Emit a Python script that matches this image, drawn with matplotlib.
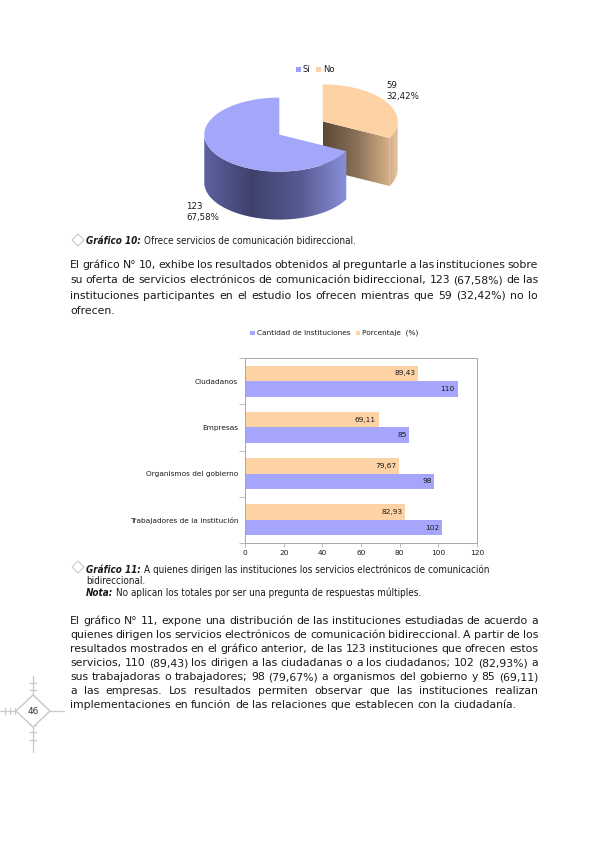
import numpy as np
import matplotlib
matplotlib.use('Agg')
import matplotlib.pyplot as plt
from matplotlib.patches import Polygon, Rectangle
from matplotlib.colors import LinearSegmentedColormap

# ---------------- data ----------------
pie_labels = ['Sí', 'No']
pie_values = [123, 59]
pie_pct_labels = ['67,58%', '32,42%']

bar_categories = ['Ciudadanos', 'Empresas', 'Organismos del gobierno',
                  'Trabajadores de la institución']
bar_cantidad = [110, 85, 98, 102]
bar_porcentaje = [89.43, 69.11, 79.67, 82.93]
bar_porcentaje_labels = ['89,43', '69,11', '79,67', '82,93']
bar_series = ['Cantidad de Instituciones', 'Porcentaje  (%)']
x_ticks = [0, 20, 40, 60, 80, 100, 120]

caption1_bold = 'Gráfico 10:'
caption1_text = 'Ofrece servicios de comunicación bidireccional.'
para1 = [
    'El gráfico N° 10, exhibe los resultados obtenidos al preguntarle a las instituciones sobre',
    'su oferta de servicios electrónicos de comunicación bidireccional, 123 (67,58%) de las',
    'instituciones participantes en el estudio los ofrecen mientras que 59 (32,42%) no lo',
    'ofrecen.',
]
caption2_bold = 'Gráfico 11:'
caption2_lines = ['A quienes dirigen las instituciones los servicios electrónicos de comunicación',
                  'bidireccional.']
nota_bold = 'Nota:'
nota_text = 'No aplican los totales por ser una pregunta de respuestas múltiples.'
para2 = [
    'El gráfico N° 11, expone una distribución de las instituciones estudiadas de acuerdo a',
    'quienes dirigen los servicios electrónicos de comunicación bidireccional. A partir de los',
    'resultados mostrados en el gráfico anterior, de las 123 instituciones que ofrecen estos',
    'servicios, 110 (89,43) los dirigen a las ciudadanas o a los ciudadanos; 102 (82,93%) a',
    'sus trabajadoras o trabajadores; 98 (79,67%) a organismos del gobierno y 85 (69,11)',
    'a las empresas. Los resultados permiten observar que las instituciones realizan',
    'implementaciones en función de las relaciones que establecen con la ciudadanía.',
]
page_number = '46'

# ---------------- figure ----------------
plt.rcParams['font.family'] = ['DejaVu Sans']
fig = plt.figure(figsize=(5.95, 8.42), dpi=100)
page = fig.add_axes([0, 0, 1, 1])
page.set_xlim(0, 595)
page.set_ylim(842, 0)
page.axis('off')
renderer = fig.canvas.get_renderer()

TXT = '#1a1a1a'
GRAY = '#c9c9c9'


def text_width(s, **kw):
    t = page.text(0, 0, s, **kw)
    w = t.get_window_extent(renderer).width
    t.remove()
    return w


def draw_line(line, y, x0, x1, justify, **kw):
    words = line.split(' ')
    widths = [text_width(w, **kw) for w in words]
    if justify and len(words) > 1:
        gap = (x1 - x0 - sum(widths)) / (len(words) - 1)
    else:
        gap = text_width('a a', **kw) - text_width('aa', **kw)
    x = x0
    for w, wd in zip(words, widths):
        page.text(x, y, w, ha='left', va='baseline', color=TXT, **kw)
        x += wd + gap


def diamond(cx, cy, hw, hh, lw=0.8):
    page.add_patch(Polygon([(cx - hw, cy), (cx, cy - hh), (cx + hw, cy), (cx, cy + hh)],
                           closed=True, facecolor='white', edgecolor=GRAY, lw=lw, zorder=3))


# ---------------- 3D pie ----------------
def ell(cx, cy, rx, ry, th):
    th = np.radians(th)
    return np.column_stack([cx + rx * np.cos(th), cy - ry * np.sin(th)])


def grad_fill(poly, x0, x1, y0, y1, colors, z):
    patch = Polygon(poly, closed=True, facecolor='none', edgecolor='none', zorder=z)
    page.add_patch(patch)
    cmap = LinearSegmentedColormap.from_list('g', colors)
    g = np.linspace(0, 1, 256).reshape(1, -1)
    im = page.imshow(g, cmap=cmap, extent=(x0, x1, y1, y0), aspect='auto',
                     zorder=z, interpolation='bilinear')
    im.set_clip_path(patch)


pcx, pcy, rx, ry, depth, explode = 301, 128, 75, 37, 48, 0.34
total = sum(pie_values)
sweep_no = 360 * pie_values[1] / total
a_start = 90
a_end_no = a_start - sweep_no           # orange: 90 -> -26.7 (clockwise)
mid_no = (a_start + a_end_no) / 2
mid_si = mid_no + 180
off = lambda m: (explode * rx * np.cos(np.radians(m)), -explode * ry * np.sin(np.radians(m)))

# orange slice ("No")
ox, oy = off(mid_no)
ocx, ocy = pcx + ox, pcy + oy
arc_o = ell(ocx, ocy, rx, ry, np.linspace(a_start, a_end_no, 120))
th_side = np.linspace(a_end_no, 0, 40)
top_s = ell(ocx, ocy, rx, ry, th_side)
bot_s = top_s + [0, depth]
grad_fill(np.vstack([top_s, bot_s[::-1]]), ocx + rx * 0.85, ocx + rx, ocy - ry, ocy + ry + depth,
          ['#c9a47c', '#e6c59f'], 2)
rim = ell(ocx, ocy, rx, ry, [a_end_no])[0]
face = [(ocx, ocy), tuple(rim), (rim[0], rim[1] + depth), (ocx, ocy + depth)]
grad_fill(face, ocx, rim[0], ocy, rim[1] + depth, ['#5a4835', '#8a7158', '#d8b38a'], 2.1)
page.add_patch(Polygon(np.vstack([[ocx, ocy], arc_o]), closed=True, facecolor='#fdd3a6',
                       edgecolor='none', zorder=3))

# blue slice ("Sí")
bx, by = off(mid_si)
bcx, bcy = pcx + bx, pcy + by
arc_b = ell(bcx, bcy, rx, ry, np.linspace(a_end_no + 360, a_start, 240))
th_side = np.linspace(180, a_end_no + 360, 120)
top_s = ell(bcx, bcy, rx, ry, th_side)
bot_s = top_s + [0, depth]
grad_fill(np.vstack([top_s, bot_s[::-1]]), bcx - rx, top_s[-1, 0], bcy, bcy + ry + depth,
          ['#5d619f', '#3f426c', '#55598f', '#8a8fdb'], 4)
page.add_patch(Polygon(np.vstack([[bcx, bcy], arc_b]), closed=True, facecolor='#a3a7fa',
                       edgecolor='none', zorder=5))

page.text(386, 91, f'{pie_values[1]}\n{pie_pct_labels[1]}', fontsize=6.2, color=TXT,
          ha='left', va='center', linespacing=1.15)
page.text(186, 212, f'{pie_values[0]}\n{pie_pct_labels[0]}', fontsize=6.2, color=TXT,
          ha='left', va='center', linespacing=1.15)

pie_colors = ['#9c9ff7', '#fcd3a6']
lx = 296
for lab, c in zip(pie_labels, pie_colors):
    page.add_patch(Rectangle((lx, 67), 5, 5, facecolor=c, edgecolor='none'))
    page.text(lx + 6.5, 69.5, lab, fontsize=6, color=TXT, ha='left', va='center')
    lx += 6.5 + text_width(lab, fontsize=6) + 6

# ---------------- caption 1 + paragraph 1 ----------------
CAP = dict(fontsize=7.1, fontstretch='condensed')
CAPB = dict(fontsize=7.1, fontstretch='condensed', fontweight='bold', fontstyle='italic')
diamond(78, 240, 6, 6)
page.text(86, 243.5, caption1_bold, color=TXT, va='baseline', **CAPB)
wb = text_width(caption1_bold + ' ', **CAPB)
page.text(86 + wb, 243.5, caption1_text, color=TXT, va='baseline', **CAP)

BODY = 7.8
for i, line in enumerate(para1):
    draw_line(line, 268 + i * 15.4, 70, 538, i < len(para1) - 1, fontsize=BODY)

# ---------------- bar chart ----------------
blue = '#a5a6fb'
orange = '#fdd3a5'
lx = 250
for lab, c in zip(bar_series, [blue, orange]):
    page.add_patch(Rectangle((lx, 330.5), 4.5, 4.5, facecolor=c, edgecolor='none'))
    page.text(lx + 7, 333, lab, fontsize=5.3, color=TXT, ha='left', va='center')
    lx += 7 + text_width(lab, fontsize=5.3) + 5

ax = fig.add_axes([245 / 595, 1 - 543 / 842, 232 / 595, 185 / 842])
y = np.arange(len(bar_categories))
h = 0.335
ax.barh(y + h / 2, bar_cantidad, height=h, color=blue, zorder=2)
ax.barh(y - h / 2, bar_porcentaje, height=h, color=orange, zorder=2)
for yi, v in zip(y, bar_cantidad):
    ax.annotate(str(v), (v, yi + h / 2), xytext=(-2, 0), textcoords='offset points',
                ha='right', va='center', fontsize=5.3, color=TXT)
for yi, v, lab in zip(y, bar_porcentaje, bar_porcentaje_labels):
    ax.annotate(lab, (v, yi - h / 2), xytext=(-2, 0), textcoords='offset points',
                ha='right', va='center', fontsize=5.3, color=TXT)
ax.set_xlim(0, 120)
ax.set_ylim(len(bar_categories) - 0.5, -0.5)
ax.set_xticks(x_ticks)
ax.set_xticklabels([str(t) for t in x_ticks])
ax.set_yticks(y)
ax.set_yticklabels(bar_categories)
ax.set_yticks(np.arange(len(bar_categories) + 1) - 0.5, minor=True)
ax.tick_params(axis='y', which='major', length=0, pad=5, labelsize=5.3, labelcolor=TXT)
ax.tick_params(axis='y', which='minor', length=4, color='#b0b0b0', width=0.6)
ax.tick_params(axis='x', length=3, color='#b0b0b0', width=0.6, labelsize=5.3,
               labelcolor=TXT, pad=2)
for s in ['left', 'bottom']:
    ax.spines[s].set_color('#a8a8a8')
    ax.spines[s].set_linewidth(0.7)
for s in ['top', 'right']:
    ax.spines[s].set_color('#a8a8a8')
    ax.spines[s].set_linestyle((0, (1, 1)))
    ax.spines[s].set_linewidth(0.7)

# ---------------- caption 2 ----------------
diamond(78, 567, 6, 6)
wb2 = text_width(caption2_bold + ' ', **CAPB)
page.text(86, 573, caption2_bold, color=TXT, va='baseline', **CAPB)
page.text(86 + wb2, 573, caption2_lines[0], color=TXT, va='baseline', **CAP)
page.text(86, 584.5, caption2_lines[1], color=TXT, va='baseline', **CAP)
wn = text_width(nota_bold + ' ', **CAPB)
page.text(86, 596, nota_bold, color=TXT, va='baseline', **CAPB)
page.text(86 + wn, 596, nota_text, color=TXT, va='baseline', **CAP)

# ---------------- paragraph 2 ----------------
for i, line in enumerate(para2):
    draw_line(line, 624 + i * 14.0, 70, 538, i < len(para2) - 1, fontsize=BODY)

# ---------------- page number ornament ----------------
pc = (33, 711)
page.plot([0, 64], [pc[1], pc[1]], color=GRAY, lw=0.9, zorder=2)
page.plot([pc[0], pc[0]], [676, 752], color=GRAY, lw=0.9, zorder=2)
for tx in [5, 10, 15]:
    page.plot([tx, tx], [pc[1] - 3, pc[1] + 3], color=GRAY, lw=0.9)
for ty in [683, 690, 697, 725, 732, 740]:
    page.plot([pc[0] - 3, pc[0] + 3], [ty, ty], color=GRAY, lw=0.9)
diamond(pc[0], pc[1], 17, 16, lw=1.0)
page.text(pc[0], pc[1] + 0.5, page_number, fontsize=6.5, color='#333333', ha='center',
          va='center', zorder=4)

page.set_xlim(0, 595)
page.set_ylim(842, 0)

fig.savefig('out.png', dpi=100)
